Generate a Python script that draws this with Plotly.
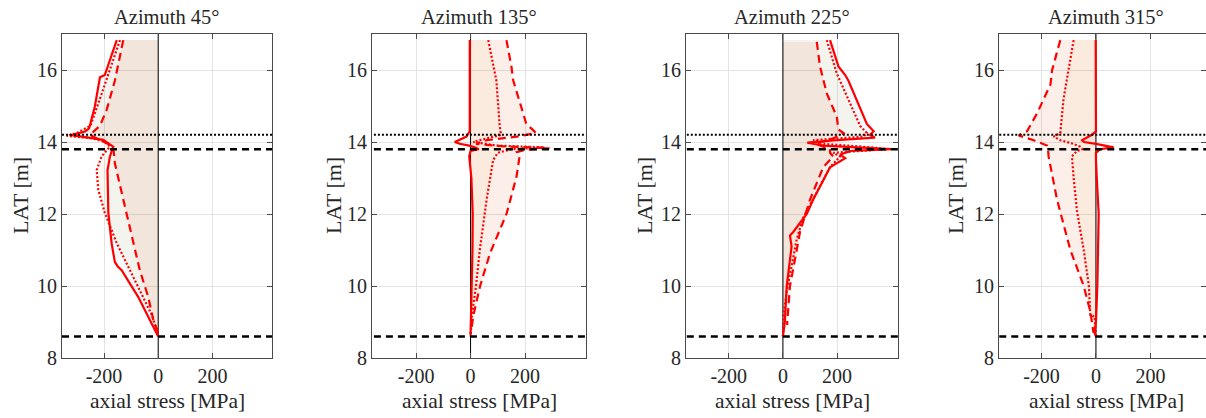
import plotly.graph_objects as go

# ---------------- data ----------------
titles = ["Azimuth 45°", "Azimuth 135°", "Azimuth 225°", "Azimuth 315°"]
x_ticks = [-200, 0, 200]
x_ticklabels = ["-200", "0", "200"]
y_ticks = [8, 10, 12, 14, 16]
y_ticklabels = ["8", "10", "12", "14", "16"]
x_label = "axial stress [MPa]"
y_label = "LAT [m]"

# reference levels (LAT, m)
ref_dotted_levels = [14.2]
ref_dashed_levels = [13.8, 8.6]
ref_x_extent = [-355, 425]
zero_line_y = [8, 17]

# Azimuth 45
p1_solid_y = [16.83, 16.0, 15.86, 15.8, 14.98, 14.38, 14.29, 14.19, 14.13, 14.06, 13.87, 13.6, 13.22, 12.03, 11.19, 10.67, 10.55, 10.44, 9.7, 9.06, 8.69, 8.6]
p1_solid_x = [-153, -190, -197, -215, -234, -255, -270, -320, -264, -203, -166, -178, -187, -184, -172, -160, -150, -135, -74, -31, -7, 0]
p1_dotted_y = [16.83, 15.95, 15.2, 14.45, 14.25, 14.17, 14.1, 14.0, 13.87, 13.6, 13.22, 12.67, 12.03, 11.19, 10.6, 10.44, 9.7, 9.2, 8.7, 8.6]
p1_dotted_x = [-141, -180, -215, -250, -301, -338, -240, -196, -178, -209, -227, -221, -197, -153, -115, -104, -55, -24, -2, 0]
p1_dashed_y = [16.83, 16.0, 15.7, 14.9, 14.45, 14.2, 14.05, 13.87, 13.41, 12.7, 12.03, 11.1, 10.44, 9.7, 9.06, 8.7]
p1_dashed_x = [-129, -153, -160, -190, -215, -252, -215, -166, -160, -138, -117, -88, -68, -37, -18, 0]

# Azimuth 135
p2_solid_y = [16.83, 14.3, 14.15, 14.05, 14.0, 13.95, 13.9, 13.85, 13.8, 13.75, 13.6, 13.0, 12.0, 11.0, 10.0, 9.0, 8.65]
p2_solid_x = [-3, -3, -15, -45, -58, -40, -5, 15, 30, 0, -5, 3, 8, 7, 5, 2, 0]
p2_dotted_y = [16.83, 15.7, 14.45, 14.2, 14.1, 14.0, 13.9, 13.85, 13.8, 13.7, 13.5, 12.4, 11.0, 10.0, 9.2, 8.6]
p2_dotted_x = [65, 95, 107, 112, 60, 10, 100, 270, 150, 100, 83, 59, 34, 20, 5, 0]
p2_dashed_y = [16.83, 16.1, 15.7, 14.5, 14.33, 14.25, 14.15, 14.05, 13.95, 13.88, 13.83, 13.78, 13.72, 13.6, 13.04, 12.0, 10.9, 10.0, 9.2, 8.65]
p2_dashed_x = [132, 150, 157, 205, 230, 240, 170, 60, 20, 120, 290, 200, 170, 180, 169, 132, 71, 35, 11, 0]

# Azimuth 225
p3_solid_y = [16.83, 16.1, 15.86, 15.7, 14.5, 14.3, 14.2, 14.12, 14.05, 13.98, 13.9, 13.85, 13.8, 13.75, 13.65, 13.55, 13.3, 12.4, 12.0, 11.5, 11.4, 11.1, 10.0, 9.0, 8.6]
p3_solid_x = [174, 205, 230, 242, 310, 335, 322, 340, 200, 90, 150, 300, 400, 250, 211, 230, 174, 112, 88, 38, 26, 32, 14, 7, 0]
p3_dotted_y = [16.83, 15.9, 15.7, 14.45, 14.25, 14.15, 14.05, 13.95, 13.85, 13.8, 13.7, 13.6, 13.3, 12.4, 11.9, 11.3, 10.6, 9.85, 9.2, 8.6]
p3_dotted_x = [162, 199, 211, 285, 310, 298, 112, 150, 330, 384, 186, 211, 174, 112, 75, 51, 32, 14, 2, 0]
p3_dashed_y = [16.78, 16.1, 15.35, 14.7, 14.35, 14.25, 14.1, 13.95, 13.8, 13.7, 13.6, 13.3, 12.4, 11.5, 11.0, 10.5, 10.0, 9.0, 8.92]
p3_dashed_x = [125, 137, 162, 199, 205, 224, 186, 120, 174, 174, 186, 149, 100, 63, 51, 38, 26, 16, 16]

# Azimuth 315
p4_solid_y = [16.83, 14.3, 14.2, 14.05, 14.0, 13.95, 13.85, 13.8, 13.7, 13.5, 13.0, 12.0, 10.0, 9.0, 8.7, 8.6]
p4_solid_x = [-1, 0, -15, -51, -44, 0, 65, 15, 0, 0, 3, 10, 5, 0, -5, 0]
p4_dotted_y = [16.83, 15.7, 15.2, 14.25, 14.15, 14.05, 13.96, 13.87, 13.8, 13.75, 13.6, 13.0, 12.1, 11.0, 10.0, 9.2, 9.15, 8.6]
p4_dotted_x = [-82, -106, -119, -131, -155, -131, -88, -58, -50, -70, -88, -82, -70, -45, -26, -21, -5, 0]
p4_dashed_y = [16.83, 16.0, 15.6, 14.8, 14.3, 14.18, 14.05, 13.9, 13.8, 13.6, 12.4, 11.0, 10.0, 9.3, 8.7]
p4_dashed_x = [-131, -161, -167, -216, -253, -284, -229, -180, -176, -174, -143, -94, -45, -21, -9]

panels = [
    (p1_solid_x, p1_solid_y, p1_dotted_x, p1_dotted_y, p1_dashed_x, p1_dashed_y),
    (p2_solid_x, p2_solid_y, p2_dotted_x, p2_dotted_y, p2_dashed_x, p2_dashed_y),
    (p3_solid_x, p3_solid_y, p3_dotted_x, p3_dotted_y, p3_dashed_x, p3_dashed_y),
    (p4_solid_x, p4_solid_y, p4_dotted_x, p4_dotted_y, p4_dashed_x, p4_dashed_y),
]

# ---------------- layout / style ----------------
W, H = 1206, 418
M_T, M_B = 34, 60
PLOT_H = H - M_T - M_B
PLOT_BOTTOM = M_T + PLOT_H
dom_px = [(62, 272), (372, 586), (686, 898), (999, 1206)]
x_ranges = [(-355, 420), (-362, 424), (-358, 425), (-356, 404)]
title_cx = [167, 479, 792, 1106]
y_title_px = [20, 333, 644, 955]

FONT = "Liberation Serif"
TXT = "#262626"
AX = "#4a4a4a"
RED = "#ff0000"
fill_colors = ["rgba(0,114,189,0.04)", "rgba(237,177,32,0.06)", "rgba(217,83,25,0.09)"]
line_dash = ["solid", "2px,2px", "8px,5px"]


def py2paper(py):
    return (PLOT_BOTTOM - py) / PLOT_H


fig = go.Figure()
annotations = []
for i, data in enumerate(panels):
    sfx = "" if i == 0 else str(i + 1)
    xa, ya = "x" + sfx, "y" + sfx
    curves = [(data[0], data[1]), (data[2], data[3]), (data[4], data[5])]
    for (cx, cy), fc in zip(curves, fill_colors):
        fig.add_trace(go.Scatter(x=cx, y=cy, mode="lines", line=dict(width=0, color=fc),
                                 fill="tozerox", fillcolor=fc, hoverinfo="skip",
                                 showlegend=False, xaxis=xa, yaxis=ya))
    fig.add_trace(go.Scatter(x=[0, 0], y=zero_line_y, mode="lines",
                             line=dict(color="black", width=1), hoverinfo="skip",
                             showlegend=False, xaxis=xa, yaxis=ya))
    for (cx, cy), ds in zip(curves, line_dash):
        fig.add_trace(go.Scatter(x=cx, y=cy, mode="lines",
                                 line=dict(color=RED, width=2.2, dash=ds),
                                 showlegend=False, xaxis=xa, yaxis=ya))
    for lv in ref_dotted_levels:
        fig.add_trace(go.Scatter(x=ref_x_extent, y=[lv, lv], mode="lines",
                                 line=dict(color="black", width=2, dash="2px,2px"),
                                 showlegend=False, hoverinfo="skip", xaxis=xa, yaxis=ya))
    for lv in ref_dashed_levels:
        fig.add_trace(go.Scatter(x=ref_x_extent, y=[lv, lv], mode="lines",
                                 line=dict(color="black", width=2.5, dash="7px,5px"),
                                 showlegend=False, hoverinfo="skip", xaxis=xa, yaxis=ya))

    d0, d1 = dom_px[i]
    axis_common = dict(showline=True, linecolor=AX, linewidth=1, mirror="ticks",
                       ticks="inside", ticklen=5, tickcolor=AX, showgrid=True,
                       gridcolor="#e3e3e3", gridwidth=1, zeroline=False,
                       tickfont=dict(family=FONT, size=20, color=TXT))
    fig.update_layout(**{
        "xaxis" + sfx: dict(domain=[d0 / W, d1 / W], range=list(x_ranges[i]), anchor=ya,
                            tickvals=x_ticks, ticktext=x_ticklabels, **axis_common),
        "yaxis" + sfx: dict(domain=[0, 1], range=[8, 17], anchor=xa,
                            tickvals=y_ticks, ticktext=y_ticklabels, **axis_common),
    })
    annotations.append(dict(text=titles[i], xref="paper", yref="paper",
                            x=title_cx[i] / W, y=py2paper(17),
                            xanchor="center", yanchor="middle", showarrow=False,
                            font=dict(family=FONT, size=20.5, color=TXT)))
    annotations.append(dict(text=x_label, xref="paper", yref="paper",
                            x=title_cx[i] / W, y=py2paper(401),
                            xanchor="center", yanchor="middle", showarrow=False,
                            font=dict(family=FONT, size=21.5, color=TXT)))
    annotations.append(dict(text=y_label, xref="paper", yref="paper",
                            x=y_title_px[i] / W, y=py2paper(196),
                            xanchor="center", yanchor="middle", textangle=-90, showarrow=False,
                            font=dict(family=FONT, size=22, color=TXT)))

fig.update_layout(width=W, height=H, margin=dict(l=0, r=0, t=M_T, b=M_B),
                  plot_bgcolor="white", paper_bgcolor="white",
                  annotations=annotations, showlegend=False)

fig.write_html("out.html", config={"displayModeBar": False},
               post_script="document.body.style.margin='0';document.body.style.overflow='hidden';")
